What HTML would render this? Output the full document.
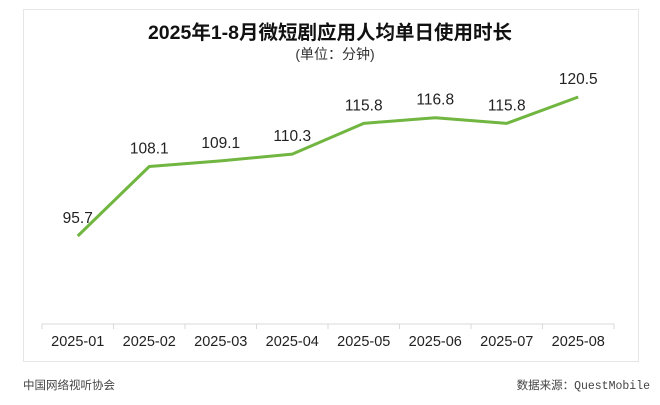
<!DOCTYPE html>
<html><head><meta charset="utf-8"><style>
body{margin:0;background:#fff;width:660px;height:405px;overflow:hidden;font-family:"Liberation Sans","Noto Sans CJK SC",sans-serif}
#frame{position:absolute;left:23px;top:9px;width:616px;height:353px;border:1px solid #e6e6e6;box-sizing:border-box}
</style></head><body>
<div id="frame"></div>
<svg width="660" height="405" style="position:absolute;left:0;top:0">
<text x="330" y="39" text-anchor="middle" font-size="19.5" font-weight="bold" fill="#111" font-family="Liberation Sans,Noto Sans CJK SC,sans-serif">2025年1-8月微短剧应用人均单日使用时长</text>
<text x="335" y="59" text-anchor="middle" font-size="14" fill="#333" font-family="Liberation Sans,Noto Sans CJK SC,sans-serif">(单位：分钟)</text>
<g id="plot"></g>
<text x="23" y="389" font-size="11.5" fill="#444" font-family="Liberation Mono,Noto Sans CJK SC,monospace">中国网络视听协会</text>
<text x="650" y="389" text-anchor="end" font-size="11.5" fill="#444" font-family="Liberation Mono,Noto Sans CJK SC,monospace">数据来源：QuestMobile</text>
</svg>
<script>
const categories=["2025-01","2025-02","2025-03","2025-04","2025-05","2025-06","2025-07","2025-08"];
const values=[95.7,108.1,109.1,110.3,115.8,116.8,115.8,120.5];
const labels=["95.7","108.1","109.1","110.3","115.8","116.8","115.8","120.5"];
const NS="http://www.w3.org/2000/svg";
const g=document.getElementById('plot');
const x0=42,x1=614,axisY=324,bw=(x1-x0)/categories.length;
const xs=i=>x0+bw*(i+0.5);
const ys=v=>236-(v-95.7)*5.605;
function mk(t,a){const e=document.createElementNS(NS,t);for(const k in a)e.setAttribute(k,a[k]);g.appendChild(e);return e;}
const ax=mk('line',{x1:x0,x2:x1,y1:axisY,y2:axisY,stroke:'#d9d9d9','stroke-width':1});


for(let i=0;i<=categories.length;i++){const t=mk('line',{x1:x0+bw*i,x2:x0+bw*i,y1:axisY,y2:axisY+5,stroke:'#d9d9d9'});

}
categories.forEach((c,i)=>{const t=mk('text',{x:xs(i),y:346,'text-anchor':'middle','font-size':14.5,fill:'#222'});t.textContent=c;

});
const p=mk('polyline',{points:values.map((v,i)=>xs(i)+','+ys(v)).join(' '),fill:'none',stroke:'#70b640','stroke-width':3,'stroke-linejoin':'round'});


values.forEach((v,i)=>{const t=mk('text',{x:xs(i),y:ys(v)-13,'text-anchor':'middle','font-size':15.5,fill:'#222'});t.textContent=labels[i];

});
</script>
</body></html>
